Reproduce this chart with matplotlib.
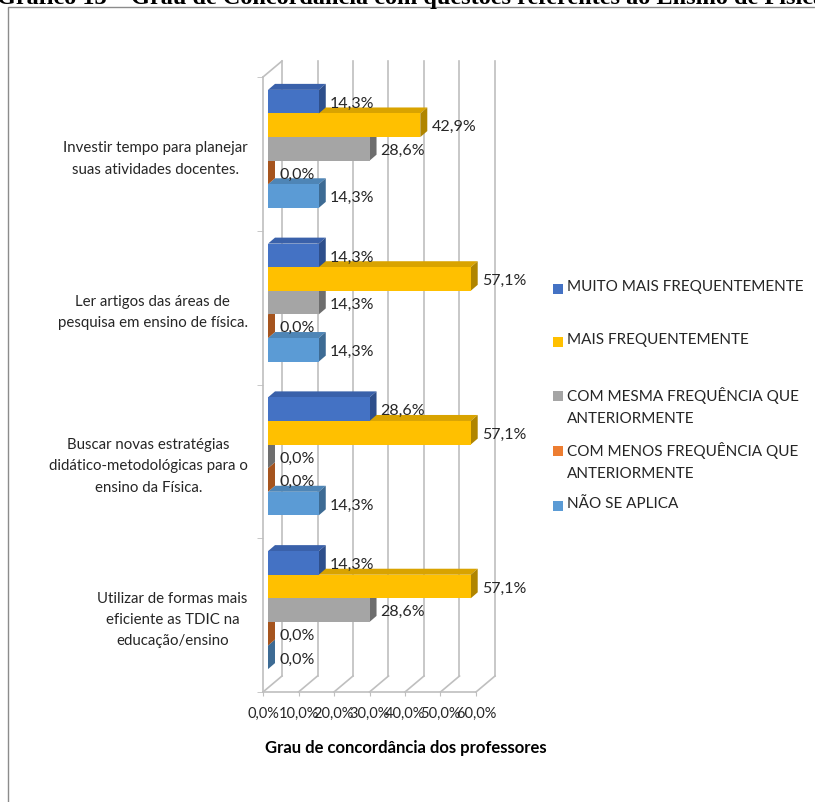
import matplotlib
matplotlib.use('Agg')
import matplotlib.pyplot as plt
from matplotlib.patches import Polygon, Rectangle

categories = [
    "Investir tempo para planejar\nsuas atividades docentes.",
    "Ler artigos das áreas de\npesquisa em ensino de física.",
    "Buscar novas estratégias\ndidático-metodológicas para o\nensino da Física.",
    "Utilizar de formas mais\neficiente as TDIC na\neducação/ensino",
]
series_names = [
    "MUITO MAIS FREQUENTEMENTE",
    "MAIS FREQUENTEMENTE",
    "COM MESMA FREQUÊNCIA QUE\nANTERIORMENTE",
    "COM MENOS FREQUÊNCIA QUE\nANTERIORMENTE",
    "NÃO SE APLICA",
]
muito_mais = [14.3, 14.3, 28.6, 14.3]
mais = [42.9, 57.1, 57.1, 57.1]
mesma = [28.6, 14.3, 0.0, 28.6]
menos = [0.0, 0.0, 0.0, 0.0]
nao_aplica = [14.3, 14.3, 14.3, 0.0]
x_ticks = [0, 10, 20, 30, 40, 50, 60]

series = [muito_mais, mais, mesma, menos, nao_aplica]
front_colors = ["#4472C4", "#FFC000", "#A5A5A5", "#ED7D31", "#5B9BD5"]
top_colors = ["#3A61AA", "#D9A300", "#8C8C8C", "#C9692A", "#4E85B6"]
side_colors = ["#2E4F8C", "#B08500", "#6E6E6E", "#A5541E", "#3D6B94"]

FONT = "Lato"
plt.rcParams["font.family"] = [FONT, "DejaVu Sans"]
W, H = 815, 802

fig = plt.figure(figsize=(W / 100, H / 100), dpi=100)

# outer frame of the chart area
fig.add_artist(Rectangle((8 / W, -0.5), 2, 1.5 - 7 / H, transform=fig.transFigure,
                         fill=False, ec="#8C8C8C", lw=1))
fig.text(-0.004, 1 - 4 / H,
         "Gráfico 13 – Grau de Concordância com questões referentes ao Ensino de Física",
         family="Liberation Serif", fontweight="bold", fontsize=17.5, va="baseline")

ax = fig.add_axes([263 / W, 1 - 692 / H, 213 / W, 615 / H])
ax.set_xlim(0, 60)
ax.set_ylim(0, 4)

# data units per pixel, used for the pseudo 3d depth
ux = 60 / 213
uy = 4 / 615
wall_dx, wall_dy = 19 * ux, 16 * uy
grid = "#BFBFBF"

# back wall gridlines + floor diagonals
for t in x_ticks:
    ax.plot([t + wall_dx, t + wall_dx], [wall_dy, 4 + wall_dy], color=grid, lw=1.2,
            clip_on=False, zorder=0)
    ax.plot([t, t + wall_dx], [0, wall_dy], color=grid, lw=1.2, clip_on=False, zorder=0)
ax.plot([0, wall_dx], [4, 4 + wall_dy], color=grid, lw=1.2, clip_on=False, zorder=0)

bar_h = 0.1535
off_x, off_y = 5 * ux, 5 * uy
dep_x, dep_y = 7 * ux, 6 * uy

for i in range(len(categories)):
    yc = 3.5 - i
    for j in reversed(range(len(series))):
        v = series[j][i]
        z = 2 + (len(series) - j) * 3 + i * 20
        yb = yc + (2 - j) * bar_h - bar_h / 2 + off_y
        yt = yb + bar_h
        x0 = off_x
        ax.add_patch(Polygon([(x0, yt), (x0 + v, yt), (x0 + v + dep_x, yt + dep_y),
                              (x0 + dep_x, yt + dep_y)], closed=True,
                             fc=top_colors[j], ec="none", clip_on=False, zorder=z))
        ax.add_patch(Polygon([(x0 + v, yb), (x0 + v + dep_x, yb + dep_y),
                              (x0 + v + dep_x, yt + dep_y), (x0 + v, yt)], closed=True,
                             fc=side_colors[j], ec="none", clip_on=False, zorder=z + 1))
        ax.barh(yb + bar_h / 2, v, left=x0, height=bar_h, color=front_colors[j],
                ec="none", clip_on=False, zorder=z + 2)
        ax.annotate(f"{v:.1f}%".replace(".", ","), xy=(x0 + v, yb + bar_h / 2),
                    xytext=(8, -1.5), textcoords="offset points", va="center", ha="left",
                    fontsize=11.5, color="#262626", zorder=200)

for s in ["top", "right"]:
    ax.spines[s].set_visible(False)
for s in ["left", "bottom"]:
    ax.spines[s].set_color(grid)
    ax.spines[s].set_linewidth(1.2)
ax.patch.set_visible(False)

ax.set_xticks(x_ticks, [f"{t:.1f}%".replace(".", ",") for t in x_ticks])
ax.tick_params(axis="x", length=3, color=grid, pad=8, labelsize=10.5, labelcolor="#262626")
ax.set_yticks([3.5 - i for i in range(len(categories))], categories)
ax.set_yticks([0, 1, 2, 3, 4], minor=True)
ax.tick_params(axis="y", which="major", length=0, pad=11, labelsize=10.8,
               labelcolor="#262626")
ax.tick_params(axis="y", which="minor", length=4, color=grid)
for lbl in ax.get_yticklabels():
    lbl.set_multialignment("center")
    lbl.set_linespacing(1.65)

fig.text(406 / W, 1 - 748 / H, "Grau de concordância dos professores", ha="center",
         va="center", fontweight="bold", fontsize=12, color="#000000")

# legend
legend_rows = [289, 342, 396, 451, 506]
for name, color, row in zip(series_names, front_colors, legend_rows):
    fig.add_artist(Rectangle((553 / W, 1 - (row + 5) / H), 10 / W, 10 / H,
                             transform=fig.transFigure, fc=color, ec="none"))
    fig.text(567 / W, 1 - (row - 9) / H, name, va="top", ha="left", fontsize=11,
             color="#262626", linespacing=1.7)

fig.savefig("out.png", dpi=100)
